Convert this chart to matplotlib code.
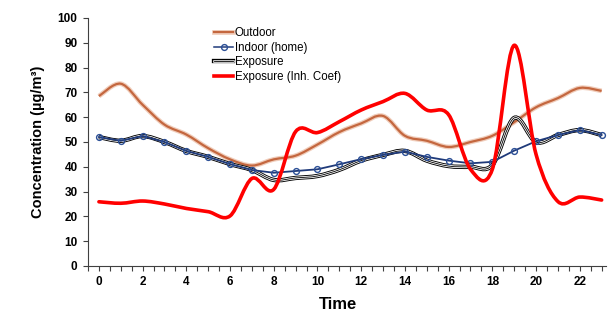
import numpy as np
import matplotlib
matplotlib.use("Agg")
import matplotlib.pyplot as plt
from matplotlib.path import Path
from matplotlib.patches import PathPatch
from matplotlib.lines import Line2D
import matplotlib.patheffects as pe

plt.rcParams['font.family'] = ['Liberation Sans Narrow', 'Liberation Sans', 'DejaVu Sans']

hours = list(range(24))
outdoor = [68.5, 73.5, 65, 57, 53, 47.5, 43, 40.5, 43, 44.5, 49, 54,
           57.5, 60.5, 52.5, 50.5, 48, 50, 52.5, 58, 64, 67.7, 71.8, 70.6]
indoor = [52, 50.5, 52.4, 50, 46.4, 44, 41.1, 38.7, 37.6, 38.3, 39, 41,
          43.1, 44.8, 46.1, 44, 42.5, 41.4, 42, 46.5, 50.3, 52.8, 54.8, 52.8]
exposure = [52, 50.5, 52.4, 50, 46.4, 44, 41.1, 38.7, 34.7, 35.5, 36.3, 38.8,
            42.5, 44.8, 46.4, 42.5, 40.3, 40, 40.7, 59.7, 50, 52.8, 54.8, 52.8]
exposure_inh = [25.9, 25.3, 26.2, 25, 23.2, 21.9, 20.2, 35.3, 30.9, 54.2, 53.8, 58.2,
                62.9, 66.3, 69.6, 62.9, 61, 39, 39, 89, 45, 26, 27.8, 26.6]


def smooth_path(x, y):
    # Excel-style smoothed line as cubic Bezier segments
    pts = np.column_stack([np.asarray(x, float), np.asarray(y, float)])
    n = len(pts)
    verts = [pts[0]]
    codes = [Path.MOVETO]
    for i in range(n - 1):
        p0 = pts[i - 1] if i > 0 else pts[i]
        p1 = pts[i]
        p2 = pts[i + 1]
        p3 = pts[i + 2] if i + 2 < n else pts[i + 1]
        verts += [p1 + (p2 - p0) / 6.0, p2 - (p3 - p1) / 6.0, p2]
        codes += [Path.CURVE4] * 3
    return Path(verts, codes)


fig = plt.figure(figsize=(6.08, 3.15), dpi=100)
ax = fig.add_axes([88 / 608, 1 - 266 / 315, (606 - 88) / 608, (266 - 18) / 315])

outdoor_col = '#c4673f'
indoor_col = '#1f3a7a'
outdoor_fx = [pe.Stroke(linewidth=3.4, foreground='#f0cdbb'), pe.Normal()]
exp_fx = [pe.Stroke(linewidth=3.1, foreground='black'),
          pe.Stroke(linewidth=1.8, foreground='white'), pe.Normal()]

ax.add_patch(PathPatch(smooth_path(hours, outdoor), fill=False, edgecolor=outdoor_col,
                       lw=1.6, path_effects=outdoor_fx, zorder=2))
ax.add_patch(PathPatch(smooth_path(hours, exposure), fill=False, edgecolor='black',
                       lw=0.6, path_effects=exp_fx, zorder=3))
ax.plot(hours, indoor, color=indoor_col, lw=1.3, marker='o', ms=4.2,
        mfc='none', mec='#2b4f96', mew=1.0, zorder=4)
ax.add_patch(PathPatch(smooth_path(hours, exposure_inh), fill=False, edgecolor='#ff0000',
                       lw=2.6, capstyle='round', joinstyle='round', zorder=5))

ax.set_xlim(-0.5, 23.2)
ax.set_ylim(0, 100)
ax.set_xticks(range(0, 24, 2))
ax.set_xticks(np.arange(-0.5, 23.3, 0.5), minor=True)
ax.set_yticks(range(0, 101, 10))
ax.tick_params(axis='both', which='both', direction='out', length=3.5, width=0.8,
               color='#404040', labelsize=8.5, pad=4)
for lab in ax.get_xticklabels() + ax.get_yticklabels():
    lab.set_fontweight('bold')
for s in ['top', 'right']:
    ax.spines[s].set_visible(False)
for s in ['left', 'bottom']:
    ax.spines[s].set_color('#404040')
    ax.spines[s].set_linewidth(0.8)

ax.set_xlabel('Time', fontsize=12, fontweight='bold')
ax.xaxis.set_label_coords(0.483, -0.125)
ax.set_ylabel('Concentration (µg/m³)', fontsize=10.5, fontweight='bold', labelpad=9,
              family=['Liberation Sans', 'DejaVu Sans'])

handles = [
    Line2D([], [], color=outdoor_col, lw=1.6, path_effects=outdoor_fx),
    Line2D([], [], color=indoor_col, lw=1.1, marker='o', ms=4.2, mfc='none', mec='#2b4f96'),
    Line2D([], [], color='black', lw=0.6, path_effects=exp_fx),
    Line2D([], [], color='#ff0000', lw=2.6),
]
labels = ['Outdoor', 'Indoor (home)', 'Exposure', 'Exposure (Inh. Coef)']
fig.legend(handles, labels, loc='upper left', bbox_to_anchor=(214 / 608, 1 - 27 / 315),
           bbox_transform=fig.transFigure, frameon=False, fontsize=8.3,
           handlelength=1.65, handletextpad=0.15, labelspacing=0.22,
           borderpad=0, borderaxespad=0)

fig.savefig('out.png', dpi=100)
